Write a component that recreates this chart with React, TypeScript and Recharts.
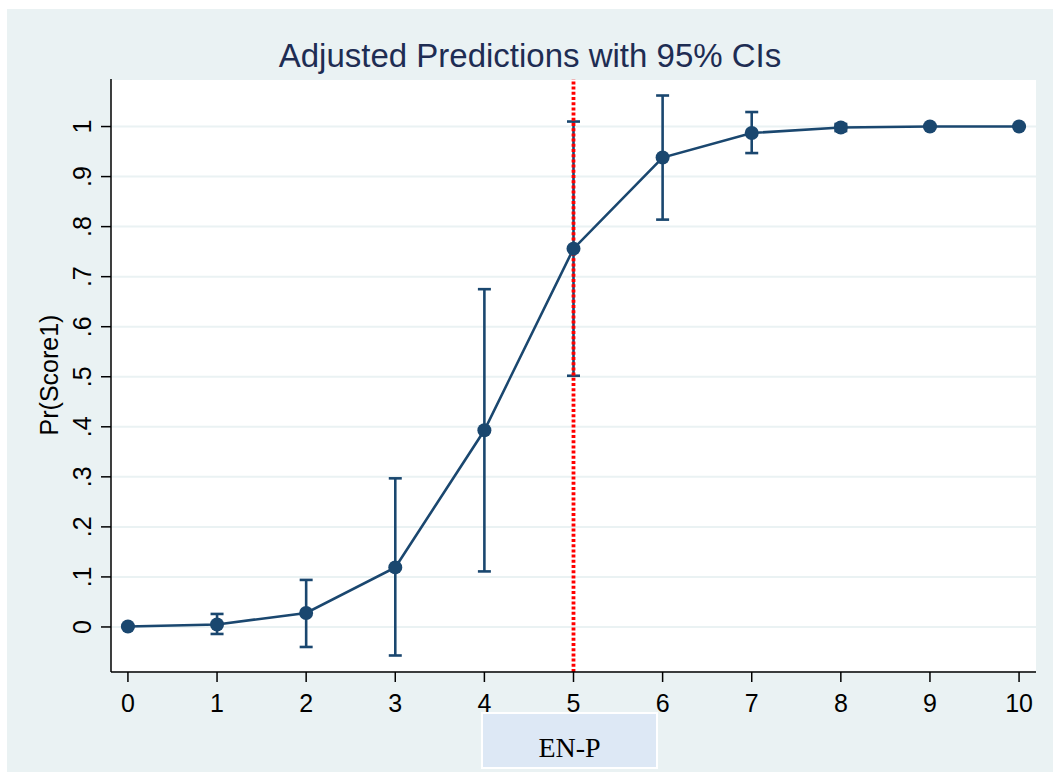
import React from 'react';
import { ComposedChart, Line, XAxis, YAxis, CartesianGrid, ErrorBar, ReferenceLine } from 'recharts';

// EN-P values on the x axis
const enp = [0, 1, 2, 3, 4, 5, 6, 7, 8, 9, 10];
// predicted Pr(Score1) and 95% CI bounds
const prScore = [0.001, 0.005, 0.028, 0.119, 0.393, 0.756, 0.938, 0.987, 0.998, 1.0, 1.0];
const ciLow = [0.0, -0.014, -0.04, -0.057, 0.111, 0.502, 0.814, 0.947, 0.991, 0.999, 1.0];
const ciHigh = [0.002, 0.026, 0.094, 0.297, 0.675, 1.01, 1.062, 1.029, 1.005, 1.001, 1.0];
const yTicks = [0, 0.1, 0.2, 0.3, 0.4, 0.5, 0.6, 0.7, 0.8, 0.9, 1];
const xTicks = enp;
const cutoff = 5;

const NAVY = '#1a476f';
const BG = '#eaf2f3';
const SANS = '"Liberation Sans", Arial, Helvetica, sans-serif';

const data = enp.map((x, i) => ({
  x,
  y: prScore[i],
  err: [prScore[i] - ciLow[i], ciHigh[i] - prScore[i]],
}));

const fmtY = (v: number) => {
  if (v === 0) return '0';
  if (v === 1) return '1';
  return '.' + Math.round(v * 10);
};

const YTick = (props: any) => {
  const { y, payload } = props;
  const bx = 91;
  return (
    <text x={bx} y={y} transform={`rotate(-90, ${bx}, ${y})`} textAnchor="middle" fontSize={25} fontFamily={SANS} fill="#000">
      {fmtY(payload.value)}
    </text>
  );
};

const XTick = (props: any) => {
  const { x, payload } = props;
  return (
    <text x={x} y={712} textAnchor="middle" fontSize={25} fontFamily={SANS} fill="#000">
      {payload.value}
    </text>
  );
};

export default function App() {
  return (
    <div style={{ position: 'absolute', left: 0, top: 0, width: 1053, height: 772, background: '#fff', overflow: 'hidden' }}>
      <div style={{ position: 'absolute', left: 7, top: 9, width: 1046, height: 763, background: BG }} />
      <div style={{ position: 'absolute', left: 0, top: 0 }}>
        <ComposedChart width={1053} height={772} data={data} margin={{ top: 79, right: 17, left: 0, bottom: 0 }}>
          <CartesianGrid vertical={false} fill="#fff" stroke={BG} strokeWidth={2} />
          <XAxis
            type="number"
            dataKey="x"
            domain={[-0.19, 10.19]}
            ticks={xTicks}
            allowDataOverflow
            height={100}
            tickSize={10}
            tick={<XTick />}
            axisLine={{ stroke: '#000', strokeWidth: 1.5 }}
            tickLine={{ stroke: '#000', strokeWidth: 1.5 }}
          />
          <YAxis
            type="number"
            domain={[-0.09, 1.095]}
            ticks={yTicks}
            allowDataOverflow
            width={111}
            tickSize={10}
            tick={<YTick />}
            axisLine={{ stroke: '#000', strokeWidth: 1.5 }}
            tickLine={{ stroke: '#000', strokeWidth: 1.5 }}
          />
          <Line
            type="linear"
            dataKey="y"
            stroke={NAVY}
            strokeWidth={2.6}
            dot={{ r: 7, fill: NAVY, stroke: NAVY, strokeWidth: 0 }}
            activeDot={false}
            isAnimationActive={false}
          >
            <ErrorBar dataKey="err" direction="y" width={6.5} stroke={NAVY} strokeWidth={2.6} isAnimationActive={false} />
          </Line>
          <ReferenceLine x={cutoff} stroke="#ff0000" strokeWidth={3.8} strokeDasharray="3 2.2" />
        </ComposedChart>
      </div>
      <svg width={1053} height={772} style={{ position: 'absolute', left: 0, top: 0, pointerEvents: 'none' }}>
        <text x={530} y={67} textAnchor="middle" fontSize={33} fontFamily={SANS} fill="#1e2d53">
          Adjusted Predictions with 95% CIs
        </text>
        <text x={58} y={375} transform="rotate(-90, 58, 375)" textAnchor="middle" fontSize={25} fontFamily={SANS} fill="#000">
          Pr(Score1)
        </text>
        <rect x={482} y={713} width={175} height={55} fill="#dde8f5" stroke="#fff" strokeWidth={2} />
        <text x={569.5} y={757} textAnchor="middle" fontSize={28} fontFamily='"Liberation Serif", "Times New Roman", serif' fill="#000">
          EN-P
        </text>
      </svg>
    </div>
  );
}
